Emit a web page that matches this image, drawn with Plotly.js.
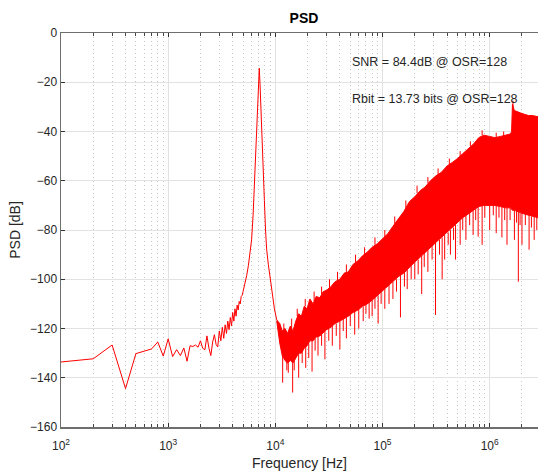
<!DOCTYPE html>
<html>
<head>
<meta charset="utf-8">
<script src="https://cdn.plot.ly/plotly-3.0.1.min.js"></script>
<style>html,body{margin:0;padding:0;background:#fff;}#chart{width:538px;height:471px;}</style>
</head>
<body>
<div id="chart"></div>
<script>
// Low-frequency floor + signal tone (Hz, dB)
const sigFreq = [100,200,300,400,500,600,700,800,900,1000,1100,1200,1300,1400,1500,1600,1700,1800,1900,2000,
  2100,2200,2300,2400,2500,2600,2700,2800,2900,3000,3100,3200,3300,3400,3500,3600,3700,3800,3900,4000,
  4100,4200,4300,4400,4500,4600,4700,4800,4900,5000,5200,5400,5600,5800,6000,6200,6400,6600,6800,6950,
  7080,7200,7350,7500,7700,7900,8100,8300,8600,8900,9300,9800,10300];
const sigPsd = [-133.6,-132.3,-126.7,-144.4,-130.2,-129.3,-128.3,-125.5,-131.2,-124.2,-131.4,-128.6,-131.0,-127.9,-133.3,-127.0,-127.3,-126.7,-127.6,-125.0,
  -128.0,-128.6,-123.0,-128.0,-131.0,-125.5,-122.5,-126.5,-127.5,-121.0,-125.0,-119.5,-124.0,-118.5,-122.0,-117.0,-120.5,-115.5,-119.0,-113.5,
  -117.0,-112.0,-115.0,-110.5,-112.5,-109.0,-110.0,-107.0,-106.5,-105.0,-102.0,-98.5,-94.5,-90.0,-84.0,-74.0,-60.0,-43.0,-30.0,-20.0,
  -14.3,-21.0,-33.0,-42.0,-55.0,-68.0,-80.0,-88.0,-94.0,-99.0,-106.0,-112.0,-116.5];

// Shaped quantisation-noise band: frequency, upper and lower edge of the dense trace (dB)
const noiseFreq = [10300,11000,11600,12300,13000,13800,14600,15500,16500,17500,18600,19800,21000,22500,24000,26000,28000,30000,33000,36000,
  40000,44000,48000,53000,59000,65000,72000,80000,90000,100000,112000,125000,140000,158000,178000,200000,225000,250000,280000,315000,
  355000,400000,450000,500000,560000,630000,710000,790000,880000,1000000,1120000,1260000,1410000,1560000,1600000,1630000,1700000,1800000,1950000,2100000,
  2300000,2500000,2822400];
const noiseUpper = [-116.5,-118,-121,-120,-122,-119,-121,-117,-114,-115,-111,-112,-108,-110,-107,-107.5,-105,-104.5,-103,-101,
  -100,-97.5,-97,-94,-92.5,-90.5,-89,-87,-85.5,-83.5,-81.5,-78.5,-75.5,-72.5,-68.5,-66.5,-64,-62.5,-60,-58,
  -56.5,-54,-52.5,-51,-49,-47,-45,-42.5,-41.5,-42,-42.5,-42,-41.5,-41,-40,-29,-31.5,-32,-32.5,-33,
  -33.5,-33.5,-34];
const noiseLower = [-117,-126,-131,-133,-134,-133,-134,-132,-130,-130,-128,-127,-125,-125,-123.5,-123,-121.5,-120.5,-119.5,-118,
  -117,-116,-115,-113.5,-112.5,-111,-110,-108.5,-106.5,-105,-103,-101,-99,-97.5,-95,-93,-91,-89,-87,-85,
  -83,-81,-79,-77,-75,-73.5,-72,-70.5,-70,-70,-70,-70.5,-71,-71,-71.5,-72,-72,-72.5,-73,-73.5,
  -74,-74.5,-75];

// Single-bin dips below the band: frequency, start (band edge) and bottom (dB)
const dipFreq = [11700,12800,13200,14500,15000,16500,17800,19200,20500,22000,23500,25000,27000,29000,31500,34000,37000,40000,43000,46000,
  50000,55000,60000,66000,70000,75000,80000,85000,91000,97000,105000,115000,125000,135000,147000,160000,170000,185000,200000,215000,
  232000,245000,265000,290000,312000,340000,360000,380000,410000,430000,460000,480000,530000,560000,600000,650000,700000,740000,780000,850000,
  900000,1000000,1080000,1150000,1220000,1300000,1380000,1450000,1550000,1700000,1780000,1850000,1920000,2000000,2150000,2330000,2450000,2600000,2750000];
const dipTop = [-130,-132,-133,-133,-132,-130,-129,-127,-126,-125,-124,-123,-122,-121,-120,-119,-118,-117,-116,-115.5,
  -114,-113,-112,-111,-110,-109,-108.5,-107,-106.5,-105,-104,-102,-101,-100,-98,-97,-96,-94.5,-93,-92,
  -90.5,-89,-88,-86.5,-85,-84,-83,-82,-81,-80,-79,-78,-76,-75,-74,-73,-72,-71.5,-70.5,-70,
  -70,-70,-70,-70,-70,-70.5,-71,-71,-71,-72,-72,-72.5,-73,-73,-73.5,-74,-74.5,-74.5,-75];
const dipBottom = [-142,-137,-138,-146,-137,-140,-134,-136,-132,-137.5,-129,-131,-127,-132.5,-125,-127,-123,-128.5,-121,-124,
  -119,-122.5,-120,-117,-114,-116,-115,-112,-118,-110,-112,-110,-108,-105,-115.5,-103,-104,-100,-100,-98,
  -106,-95,-97,-92,-114.5,-90,-100,-92,-86,-90,-84,-92,-86,-80,-84,-78,-82,-76,-82.7,-86,
  -75,-80,-74,-81.3,-75,-83,-76,-86,-76,-84,-77,-101,-78,-86,-78,-88,-79,-84,-80];

// Short upward hairs on the band's top edge: frequency, base and tip (dB)
const hairFreq = [12000,14200,16000,19000,23000,27000,32000,38000,46000,56000,68000,85000,105000,130000,165000,210000,265000,330000,420000,530000,
  660000,850000,1150000,1350000,1650000];
const hairBase = [-121,-120,-115,-111,-109,-106,-103.5,-100.5,-97,-93,-90,-86,-83,-77.5,-71,-65,-61,-57.5,-53.5,-50,
  -46,-41.5,-42.5,-42,-30];
const hairTip = [-118,-116,-112,-108,-105,-103,-100,-97,-94,-90,-87,-83,-80,-74.5,-68,-62,-58.5,-55,-51,-48,
  -44,-39.5,-40.5,-40,-27.5];

const yTicks = [0,-20,-40,-60,-80,-100,-120,-140,-160];
const xTickVals = [100,1000,10000,100000,1000000];

const RED = '#ff0000';
function segments(fs, a, b) {
  const X = [], Y = [];
  fs.forEach((f, i) => { X.push(f, f, null); Y.push(a[i], b[i], null); });
  return {X, Y};
}
const dips = segments(dipFreq, dipTop, dipBottom);
const hairs = segments(hairFreq, hairBase, hairTip);

const traces = [
  {x: sigFreq, y: sigPsd, type: 'scatter', mode: 'lines', line: {color: RED, width: 1}, hoverinfo: 'skip'},
  {x: noiseFreq, y: noiseLower, type: 'scatter', mode: 'lines', line: {color: RED, width: 1}, hoverinfo: 'skip'},
  {x: noiseFreq, y: noiseUpper, type: 'scatter', mode: 'lines', fill: 'tonexty', fillcolor: RED, line: {color: RED, width: 1}, hoverinfo: 'skip'},
  {x: dips.X, y: dips.Y, type: 'scatter', mode: 'lines', line: {color: RED, width: 1}, connectgaps: false, hoverinfo: 'skip'},
  {x: hairs.X, y: hairs.Y, type: 'scatter', mode: 'lines', line: {color: RED, width: 1}, connectgaps: false, hoverinfo: 'skip'}
];

const FONT = 'Liberation Sans, Arial, Helvetica, sans-serif';
const layout = {
  width: 538, height: 471,
  margin: {l: 61, r: 0, t: 33, b: 44},
  paper_bgcolor: '#ffffff', plot_bgcolor: '#ffffff',
  showlegend: false,
  font: {family: FONT, color: '#262626'},
  title: {text: '<b>PSD</b>', font: {family: FONT, size: 14, color: '#000'}, xref: 'container', x: 304/538, xanchor: 'center', yref: 'container', y: 1 - 18/471, yanchor: 'middle'},
  xaxis: {
    type: 'log', range: [2, Math.log10(2822400)],
    tickvals: xTickVals, ticktext: xTickVals.map(v => '10<sup>' + Math.round(Math.log10(v)) + '</sup>'),
    tickfont: {size: 12, color: '#262626'},
    ticks: 'inside', ticklen: 4, tickcolor: '#333', ticklabelstandoff: 7,
    showline: true, linecolor: '#6e6e6e', linewidth: 1.5, mirror: 'ticks',
    showgrid: true, gridcolor: '#e2e2e2', gridwidth: 1,
    minor: {dtick: 'D1', ticks: 'inside', ticklen: 3, tickcolor: '#444', showgrid: true, gridcolor: '#c6c6c6', griddash: '1px,3px', gridwidth: 1},
    zeroline: false,
    title: {text: 'Frequency [Hz]', font: {size: 14, color: '#262626'}, standoff: 10}
  },
  yaxis: {
    range: [-160, 0], tickvals: yTicks,
    tickfont: {size: 12, color: '#262626'},
    ticks: 'inside', ticklen: 4, tickcolor: '#333',
    showline: true, linecolor: '#6e6e6e', linewidth: 1.5, mirror: false,
    showgrid: true, gridcolor: '#e2e2e2', gridwidth: 1,
    zeroline: false,
    title: {text: 'PSD [dB]', font: {size: 14, color: '#262626'}, standoff: 6}
  },
  annotations: [
    {text: 'SNR = 84.4dB @ OSR=128', xref: 'x', yref: 'y', x: Math.log10(50000), y: -11.8, xanchor: 'left', yanchor: 'middle', showarrow: false, font: {size: 12.5, color: '#262626'}},
    {text: 'Rbit = 13.73 bits @ OSR=128', xref: 'x', yref: 'y', x: Math.log10(50000), y: -27, xanchor: 'left', yanchor: 'middle', showarrow: false, font: {size: 12.5, color: '#262626'}}
  ]
};

Plotly.newPlot('chart', traces, layout, {staticPlot: true, displayModeBar: false});
</script>
</body>
</html>
